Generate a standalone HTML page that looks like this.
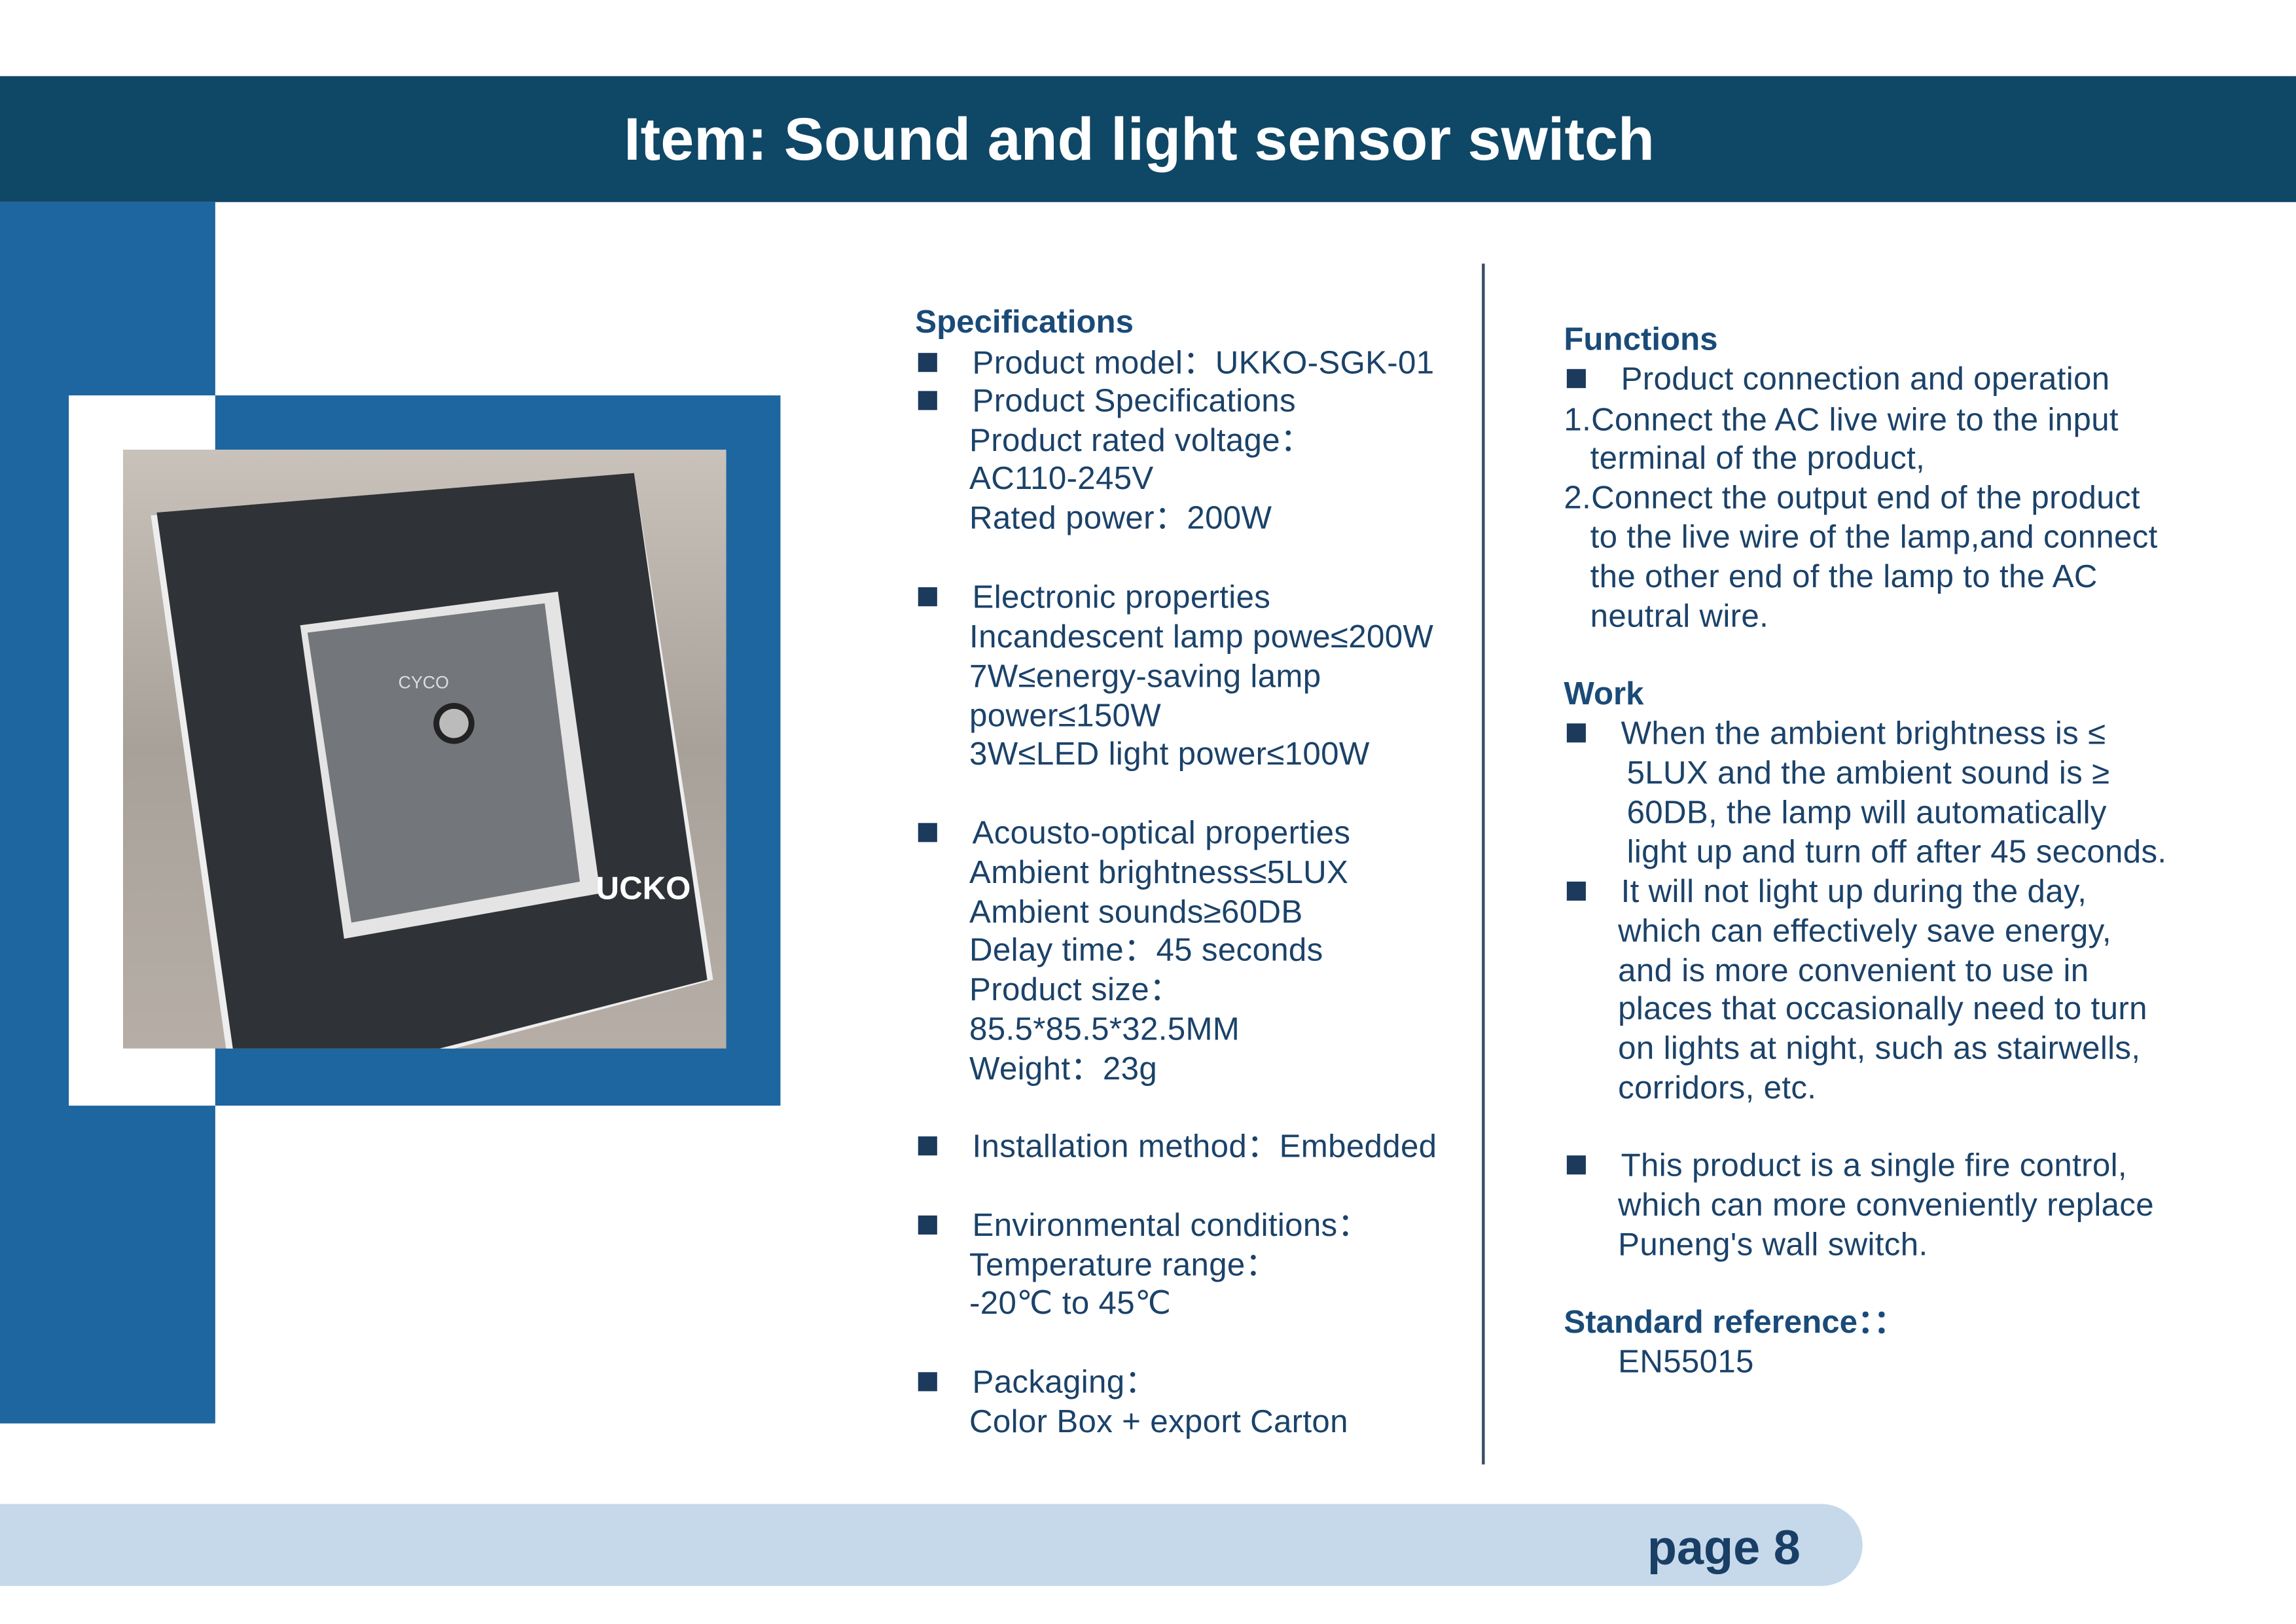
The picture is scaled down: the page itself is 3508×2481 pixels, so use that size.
<!DOCTYPE html>
<html><head><meta charset="utf-8"><style>
html,body{margin:0;padding:0;background:#fff;}
body{width:3508px;height:2481px;overflow:hidden;position:relative;}
#s{position:absolute;left:0;top:0;width:1568px;height:1109px;transform:scale(2.23724);transform-origin:0 0;font-family:"Liberation Sans",Arial,sans-serif;}
.a{position:absolute;}
.t{position:absolute;font-size:22px;letter-spacing:0.15px;line-height:26px;color:#1b4269;white-space:nowrap;}
.h{font-weight:bold;color:#1a4b78;letter-spacing:0;}
.b{position:absolute;width:13px;height:13px;background:#1b3a5c;}
</style></head><body><div id="s">
<div class="a" style="left:0;top:52px;width:1568px;height:86px;background:#0f4766;"></div>
<div class="a" style="left:0;top:52px;width:1556px;height:86px;line-height:86px;text-align:center;color:#fff;font-weight:bold;font-size:41px;">Item: Sound and light sensor switch</div>
<div class="a" style="left:0;top:138px;width:147px;height:834px;background:#1e66a0;"></div>
<div class="a" style="left:47px;top:270px;width:100px;height:485px;background:#fff;"></div>
<div class="a" style="left:147px;top:270px;width:386px;height:485px;background:#1e66a0;"></div>
<svg class="a" style="left:84px;top:307px;" width="412" height="409" viewBox="84 307 412 409">
<defs><linearGradient id="g" x1="0" y1="0" x2="0" y2="1"><stop offset="0" stop-color="#c9c2ba"/><stop offset="0.5" stop-color="#a8a19a"/><stop offset="1" stop-color="#b6aea6"/></linearGradient></defs>
<rect x="84" y="307" width="412" height="409" fill="url(#g)"/>
<polygon points="103,352 433,323 487,669 160,756" fill="#eee"/>
<polygon points="107,350 433,323 483,669 164,751" fill="#2f3236"/>
<polygon points="205,427 381,404 410,610 235,641" fill="#e4e4e4"/>
<polygon points="210,432 372,412 396,602 240,630" fill="#73767a"/>
<circle cx="310" cy="494" r="14" fill="#222"/><circle cx="310" cy="494" r="10" fill="#bbb"/>
<text x="272" y="470" font-size="12" fill="#ddd" font-family="Liberation Sans">CYCO</text>
<text x="407" y="614" font-size="22" fill="#fff" font-weight="bold" font-family="Liberation Sans">UCKO</text>
</svg>
<div class="a" style="left:1012px;top:180px;width:2px;height:820px;background:#3a4f66;"></div>
<div class="a" style="left:0;top:1027px;width:1272px;height:56px;background:#c6d9ea;border-radius:0 28px 28px 0;"></div>
<div class="a" style="left:1125px;top:1036px;font-size:33px;line-height:42px;font-weight:bold;color:#1a3f66;">page 8</div>

<div class="t h" style="left:625px;top:207px;">Specifications</div>
<div class="b" style="left:627px;top:241px;"></div><div class="t" style="left:664px;top:235px;">Product model：UKKO-SGK-01</div>
<div class="b" style="left:627px;top:267px;"></div><div class="t" style="left:664px;top:261px;">Product Specifications</div>
<div class="t" style="left:662px;top:288px;">Product rated voltage：</div>
<div class="t" style="left:662px;top:314px;">AC110-245V</div>
<div class="t" style="left:662px;top:341px;">Rated power：200W</div>
<div class="b" style="left:627px;top:401px;"></div><div class="t" style="left:664px;top:395px;">Electronic properties</div>
<div class="t" style="left:662px;top:422px;">Incandescent lamp powe≤200W</div>
<div class="t" style="left:662px;top:449px;">7W≤energy-saving lamp</div>
<div class="t" style="left:662px;top:476px;">power≤150W</div>
<div class="t" style="left:662px;top:502px;">3W≤LED light power≤100W</div>
<div class="b" style="left:627px;top:562px;"></div><div class="t" style="left:664px;top:556px;">Acousto-optical properties</div>
<div class="t" style="left:662px;top:583px;">Ambient brightness≤5LUX</div>
<div class="t" style="left:662px;top:610px;">Ambient sounds≥60DB</div>
<div class="t" style="left:662px;top:636px;">Delay time：45 seconds</div>
<div class="t" style="left:662px;top:663px;">Product size：</div>
<div class="t" style="left:662px;top:690px;">85.5*85.5*32.5MM</div>
<div class="t" style="left:662px;top:717px;">Weight：23g</div>
<div class="b" style="left:627px;top:776px;"></div><div class="t" style="left:664px;top:770px;">Installation method：Embedded</div>
<div class="b" style="left:627px;top:830px;"></div><div class="t" style="left:664px;top:824px;">Environmental conditions：</div>
<div class="t" style="left:662px;top:851px;">Temperature range：</div>
<div class="t" style="left:662px;top:877px;">-20℃ to 45℃</div>
<div class="b" style="left:627px;top:937px;"></div><div class="t" style="left:664px;top:931px;">Packaging：</div>
<div class="t" style="left:662px;top:958px;">Color Box + export Carton</div>

<div class="t h" style="left:1068px;top:219px;">Functions</div>
<div class="b" style="left:1070px;top:252px;"></div><div class="t" style="left:1107px;top:246px;">Product connection and operation</div>
<div class="t" style="left:1068px;top:274px;">1.Connect the AC live wire to the input</div>
<div class="t" style="left:1086px;top:300px;">terminal of the product,</div>
<div class="t" style="left:1068px;top:327px;">2.Connect the output end of the product</div>
<div class="t" style="left:1086px;top:354px;">to the live wire of the lamp,and connect</div>
<div class="t" style="left:1086px;top:381px;">the other end of the lamp to the AC</div>
<div class="t" style="left:1086px;top:408px;">neutral wire.</div>
<div class="t h" style="left:1068px;top:461px;">Work</div>
<div class="b" style="left:1070px;top:494px;"></div><div class="t" style="left:1107px;top:488px;">When the ambient brightness is ≤</div>
<div class="t" style="left:1111px;top:515px;">5LUX and the ambient sound is ≥</div>
<div class="t" style="left:1111px;top:542px;">60DB, the lamp will automatically</div>
<div class="t" style="left:1111px;top:569px;">light up and turn off after 45 seconds.</div>
<div class="b" style="left:1070px;top:602px;"></div><div class="t" style="left:1107px;top:596px;">It will not light up during the day,</div>
<div class="t" style="left:1105px;top:623px;">which can effectively save energy,</div>
<div class="t" style="left:1105px;top:650px;">and is more convenient to use in</div>
<div class="t" style="left:1105px;top:676px;">places that occasionally need to turn</div>
<div class="t" style="left:1105px;top:703px;">on lights at night, such as stairwells,</div>
<div class="t" style="left:1105px;top:730px;">corridors, etc.</div>
<div class="b" style="left:1070px;top:789px;"></div><div class="t" style="left:1107px;top:783px;">This product is a single fire control,</div>
<div class="t" style="left:1105px;top:810px;">which can more conveniently replace</div>
<div class="t" style="left:1105px;top:837px;">Puneng's wall switch.</div>
<div class="t h" style="left:1068px;top:890px;">Standard reference：：</div>
<div class="t" style="left:1105px;top:917px;">EN55015</div>
</div></body></html>
